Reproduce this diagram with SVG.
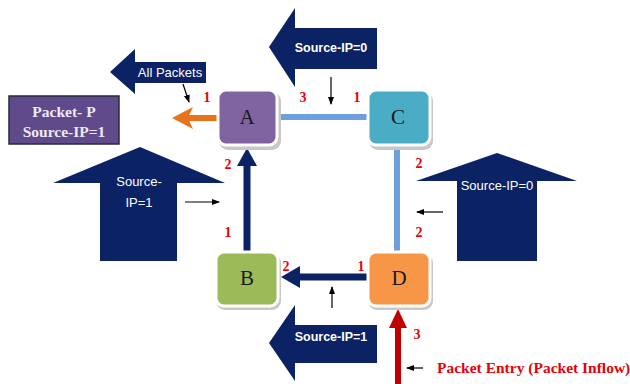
<svg xmlns="http://www.w3.org/2000/svg" width="630" height="384" viewBox="0 0 630 384">
<style>
.big{fill:#0b2265}
.wt{font-family:"Liberation Sans","Open Sans",sans-serif;font-size:13px;fill:#ffffff;text-anchor:middle}
.wtb{font-family:"Liberation Sans","Open Sans",sans-serif;font-size:12.5px;font-weight:bold;fill:#ffffff;text-anchor:middle}
.num{font-family:"Liberation Serif",serif;font-size:14px;font-weight:bold;fill:#e8000b;text-anchor:middle}
.nl{font-family:"Liberation Serif",serif;font-size:21px;fill:#1a1a1a;text-anchor:middle}
.shadow{fill:#c8c8c8}
.node{stroke:#ffffff;stroke-width:3}
.thin{stroke:#000;stroke-width:1.2;fill:none;marker-end:url(#ah)}
</style>
<defs>
<marker id="ah" markerWidth="8" markerHeight="8" refX="7" refY="4" orient="auto" markerUnits="userSpaceOnUse">
<path d="M0,1 L8,4 L0,7 Z" fill="#000"/>
</marker>
</defs>
<rect width="630" height="384" fill="#ffffff"/>

<g id="big-arrows">
<polygon class="big" points="110,72 135,49 135,62 206,62 206,83 135,83 135,94"/>
<text class="wt" x="170" y="77" font-size="13.5">All Packets</text>
<polygon class="big" points="269,47 295,8 295,28 377,28 377,69 295,69 295,87"/>
<text class="wtb" x="331" y="52">Source-IP=0</text>
<polygon class="big" points="269,343 295,305 295,325 377,325 377,363 295,363 295,381"/>
<text class="wtb" x="331" y="341">Source-IP=1</text>
<polygon class="big" points="140,147 225,183 177,183 177,261 100,261 100,183 53,183"/>
<text class="wt" x="139" y="186">Source-</text>
<text class="wt" x="139" y="207">IP=1</text>
<polygon class="big" points="497,153 577,181 537,181 537,261 457,261 457,181 416,181"/>
<text class="wt" x="497" y="190">Source-IP=0</text>
</g>

<g id="packet-p">
<rect x="9" y="96" width="110" height="48" fill="#5f4b8b" stroke="#2a2a3a" stroke-width="1.5"/>
<text x="64" y="117" font-family="Liberation Serif,serif" font-size="15.5" font-weight="bold" fill="#efe9f7" text-anchor="middle">Packet- P</text>
<text x="64" y="137" font-family="Liberation Serif,serif" font-size="15.5" font-weight="bold" fill="#efe9f7" text-anchor="middle">Source-IP=1</text>
</g>

<g id="connectors">
<line x1="279" y1="117" x2="368" y2="117" stroke="#6c9fdb" stroke-width="6"/>
<line x1="397" y1="148" x2="397" y2="252" stroke="#6c9fdb" stroke-width="6"/>
<line x1="367" y1="277" x2="296" y2="277" stroke="#0b2265" stroke-width="7"/>
<polygon points="281,277 300,266 300,288" fill="#0b2265"/>
<line x1="247" y1="252" x2="247" y2="162" stroke="#0b2265" stroke-width="7"/>
<polygon points="247,148 237,166 257,166" fill="#0b2265"/>
<line x1="217" y1="118" x2="186" y2="118" stroke="#e8731a" stroke-width="6"/>
<polygon points="172,118 193,107 188,118 193,129" fill="#e8731a"/>
<line x1="398" y1="384" x2="398" y2="322" stroke="#c00000" stroke-width="6"/>
<polygon points="398,309 389,328 407,328" fill="#c00000"/>
<line class="thin" x1="183" y1="84" x2="189" y2="102"/>
<line class="thin" x1="331" y1="77" x2="331" y2="104"/>
<line class="thin" x1="185" y1="202" x2="219" y2="202"/>
<line class="thin" x1="443" y1="212" x2="417" y2="212"/>
<line class="thin" x1="332" y1="308" x2="332" y2="287"/>
<line class="thin" x1="423" y1="368" x2="407" y2="368"/>
</g>

<g id="node-A">
<rect class="shadow" x="219" y="92" width="62" height="58" rx="9"/>
<rect class="node" x="218" y="90" width="59" height="55" rx="8" fill="#8064a2"/>
<text class="nl" x="247" y="124">A</text>
</g>
<g id="node-C">
<rect class="shadow" x="369" y="92" width="64" height="58" rx="9"/>
<rect class="node" x="368" y="90" width="62" height="55" rx="8" fill="#4bacc6"/>
<text class="nl" x="398" y="124">C</text>
</g>
<g id="node-B">
<rect class="shadow" x="216" y="254" width="65" height="56" rx="9"/>
<rect class="node" x="216" y="252" width="62" height="54" rx="8" fill="#9bbb59"/>
<text class="nl" x="247" y="285">B</text>
</g>
<g id="node-D">
<rect class="shadow" x="368" y="254" width="65" height="56" rx="9"/>
<rect class="node" x="368" y="252" width="62" height="54" rx="8" fill="#f79646"/>
<text class="nl" x="399" y="285">D</text>
</g>

<g id="labels">
<text class="num" x="207" y="102">1</text>
<text class="num" x="303" y="102">3</text>
<text class="num" x="357" y="102">1</text>
<text class="num" x="419" y="168">2</text>
<text class="num" x="228" y="169">2</text>
<text class="num" x="228" y="237">1</text>
<text class="num" x="286" y="271">2</text>
<text class="num" x="361" y="271">1</text>
<text class="num" x="419" y="237">2</text>
<text class="num" x="417" y="339">3</text>
<text x="437" y="373" font-family="Liberation Serif,serif" font-size="15.5" font-weight="bold" fill="#e8000b">Packet Entry (Packet Inflow)</text>
</g>
</svg>
